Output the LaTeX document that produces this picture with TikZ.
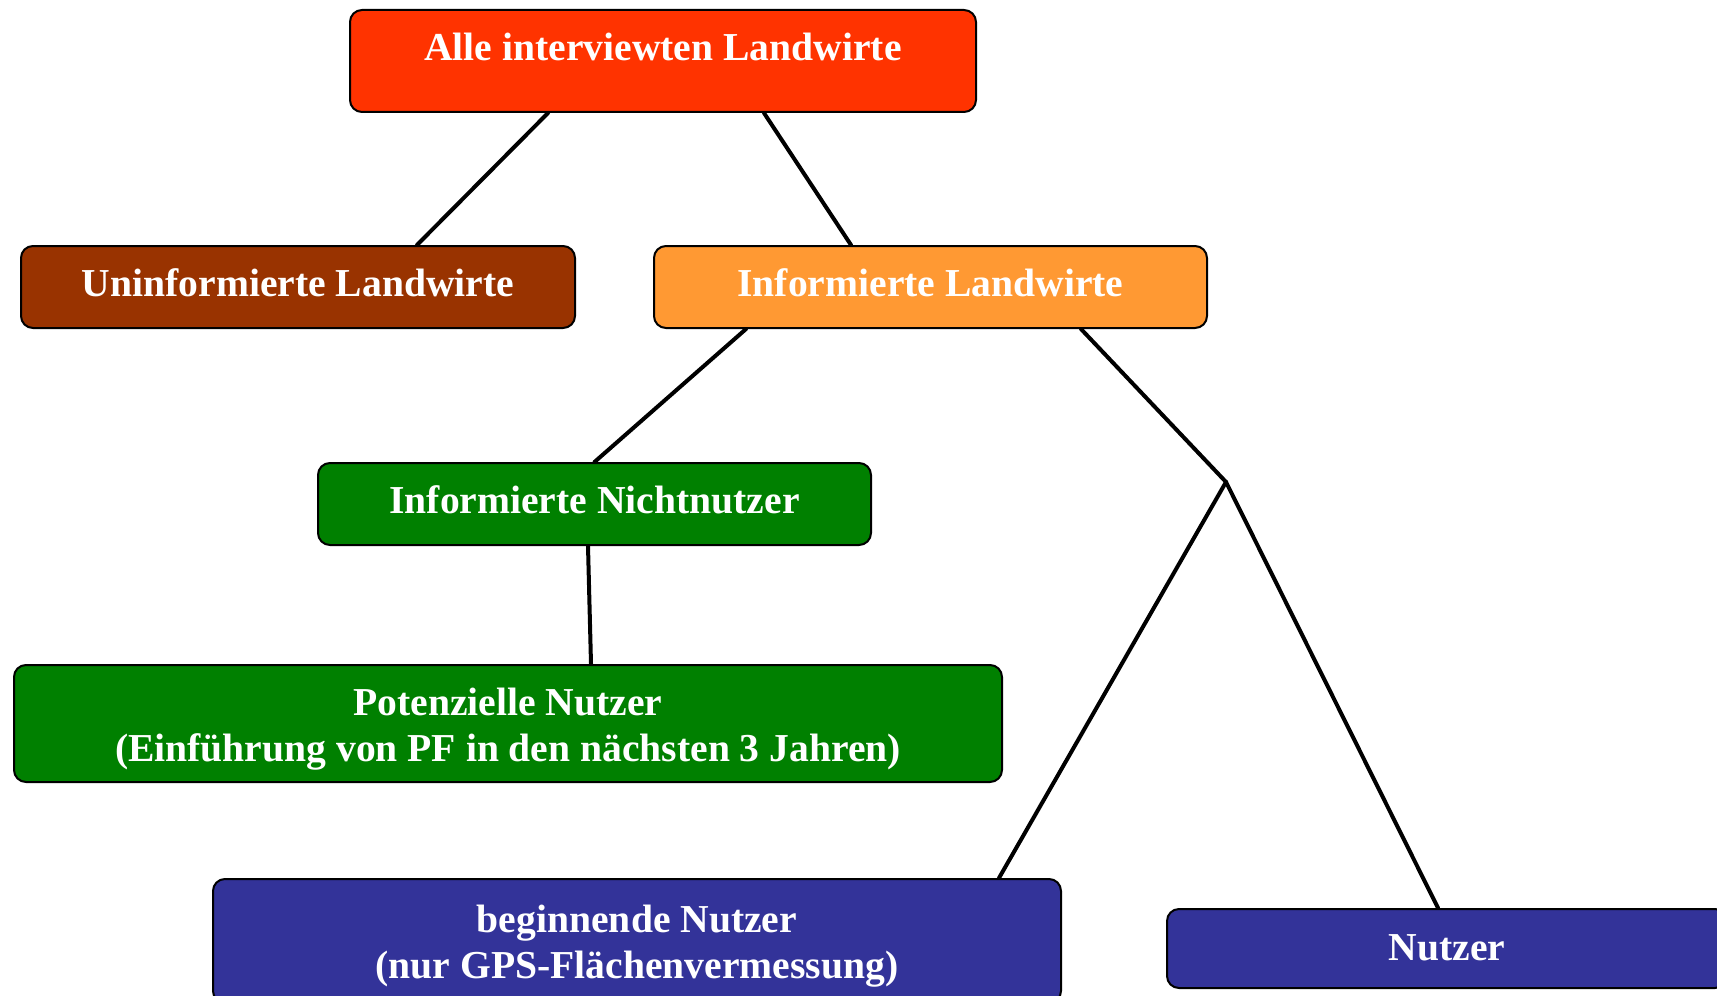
\documentclass[tikz,border=0pt]{standalone}
\usepackage{fontspec}
\setmainfont{Liberation Serif}
\usepackage{tikz}
\usetikzlibrary{calc,positioning,shapes}
\usepackage{xcolor}

\definecolor{allered}{HTML}{FF3300}
\definecolor{uninfbrown}{HTML}{993300}
\definecolor{infobrange}{HTML}{FF9933}
\definecolor{nichtgreen}{HTML}{008000}
\definecolor{nutzerblue}{HTML}{333399}

\tikzset{
  box/.style={draw=black, line width=1pt, rounded corners=6pt, inner sep=0pt,
    text=white, align=center, font=\fontsize{19.8}{23}\selectfont\bfseries},
  oneline/.style={box, text height=14pt, text depth=4.5pt},
  ast/.style={line width=2pt, line cap=round}
}

\begin{document}
\begin{tikzpicture}[x=0.5pt,y=-0.5pt]
\useasboundingbox (0,0) rectangle (1717,995);
\clip (0,0) rectangle (1717,995);

\node[box, fill=allered, minimum width=313pt, minimum height=51pt,
  text height=13pt, text depth=13pt] (alle) at (663,61) {Alle interviewten Landwirte};
\node[oneline, fill=uninfbrown, minimum width=277pt, minimum height=41pt] (uninf) at (298,287) {Uninformierte Landwirte};
\node[oneline, fill=infobrange, minimum width=276.5pt, minimum height=41pt] (inf) at (930.5,287) {Informierte Landwirte};
\node[oneline, fill=nichtgreen, minimum width=276.5pt, minimum height=41pt] (nicht) at (594.5,504) {Informierte Nichtnutzer};
\node[box, fill=nichtgreen, minimum width=494pt, minimum height=58.5pt] (pot) at (508,723.5) {\rule{0pt}{19.5pt}Potenzielle Nutzer\\(Einführung von PF in den nächsten 3 Jahren)};
\node[box, fill=nutzerblue, minimum width=424pt, minimum height=62pt] (begin) at (637,941) {\rule{0pt}{18.5pt}beginnende Nutzer\\(nur GPS-Flächenvermessung)};
\node[box, fill=nutzerblue, minimum width=280pt, minimum height=39.5pt,
  text height=14pt, text depth=2pt] (nutzer) at (1447,948.5) {Nutzer};
\coordinate (split) at (1226,482);

%\draw (alle) -- (inf);
\draw[ast] ($(alle.south)+(-115,0)$) -- ($(uninf.north)+(119,0)$);
\draw[ast] ($(alle.south)+(101,0)$) -- ($(inf.north)+(-79.5,0)$);
\draw[ast] ($(inf.south)+(-184.5,0)$) -- (nicht.north);
\draw[ast] ($(inf.south)+(150.5,0)$) -- (split);
\draw[ast] (split) -- ($(begin.north)+(362,0)$);
\draw[ast] (split) -- ($(nutzer.north)+(-9,0)$);
\draw[ast] ($(nicht.south)+(-6.5,0)$) -- ($(pot.north)+(83,0)$);
\end{tikzpicture}
\end{document}
